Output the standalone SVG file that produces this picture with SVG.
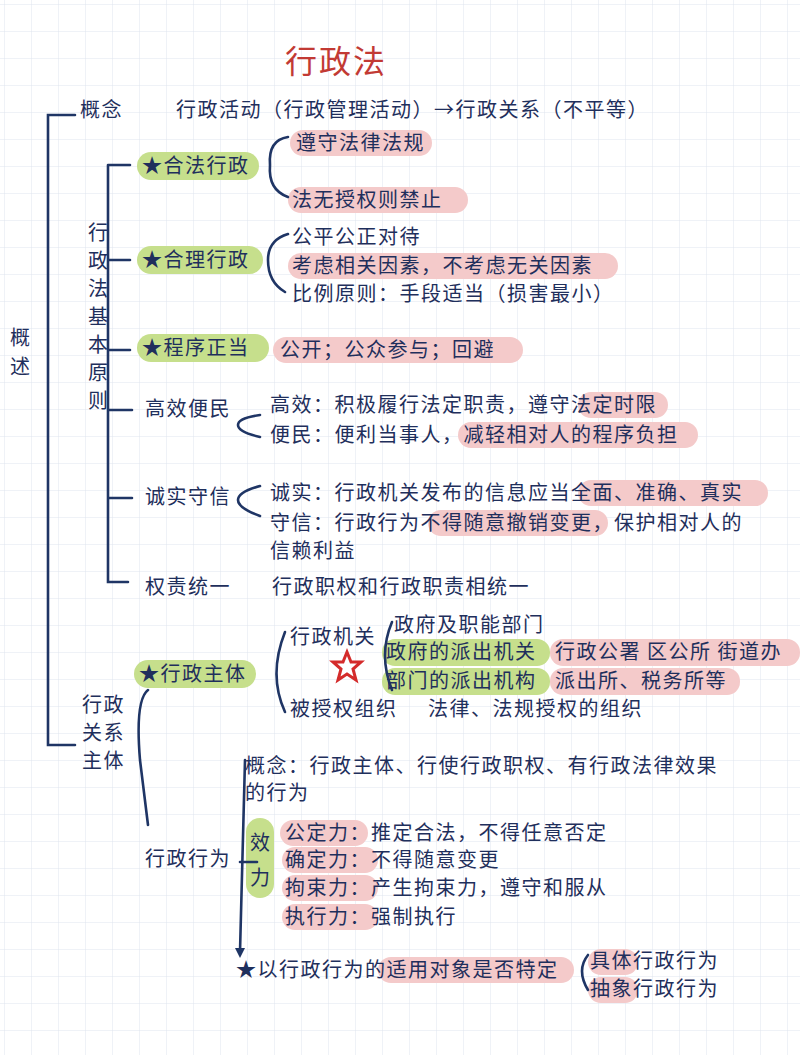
<svg xmlns="http://www.w3.org/2000/svg" width="800" height="1055" viewBox="0 0 800 1055">
<defs>
<pattern id="grid" width="27" height="27" patternUnits="userSpaceOnUse" x="5" y="5">
<path d="M27 0V27H0" fill="none" stroke="#dfe4ee" stroke-width="1"/>
</pattern>
<style>
text{font-family:"Noto Sans CJK SC","Noto Sans",sans-serif;font-size:20px;letter-spacing:1.5px;fill:#1f2f5c}
.t{font-size:32px;letter-spacing:2px;fill:#c23a34}
.ln{fill:none;stroke:#1f3565;stroke-width:2.6;stroke-linecap:round}
.g{fill:#c6df8c}
.p{fill:#f4caca}
</style>
</defs>
<rect width="800" height="1055" fill="#fff"/>
<rect width="800" height="1055" fill="url(#grid)"/>
<text class="t" x="285" y="73">行政法</text>
<g id="highlights">
<rect class="g" x="137" y="152" width="122" height="28" rx="14"/>
<rect class="g" x="137" y="246" width="126" height="28" rx="14"/>
<rect class="g" x="137" y="334" width="132" height="28" rx="14"/>
<rect class="g" x="134" y="660" width="122" height="28" rx="14"/>
<rect class="g" x="382" y="639" width="168" height="27" rx="13"/>
<rect class="g" x="382" y="668" width="168" height="27" rx="13"/>
<rect class="g" x="246" y="818" width="28" height="80" rx="14"/>
<rect class="p" x="290" y="130" width="142" height="26" rx="13"/>
<rect class="p" x="288" y="187" width="180" height="26" rx="13"/>
<rect class="p" x="288" y="253" width="330" height="26" rx="13"/>
<rect class="p" x="273" y="337" width="250" height="26" rx="13"/>
<rect class="p" x="578" y="392" width="90" height="26" rx="13"/>
<rect class="p" x="458" y="422" width="240" height="26" rx="13"/>
<rect class="p" x="578" y="480" width="190" height="26" rx="13"/>
<rect class="p" x="428" y="510" width="180" height="26" rx="13"/>
<rect class="p" x="550" y="639" width="250" height="27" rx="13"/>
<rect class="p" x="550" y="668" width="190" height="27" rx="13"/>
<rect class="p" x="280" y="820" width="88" height="26" rx="13"/>
<rect class="p" x="282" y="847" width="96" height="26" rx="13"/>
<rect class="p" x="282" y="875" width="96" height="26" rx="13"/>
<rect class="p" x="282" y="904" width="96" height="26" rx="13"/>
<rect class="p" x="378" y="957" width="196" height="26" rx="13"/>
<rect class="p" x="588" y="949" width="50" height="26" rx="13"/>
<rect class="p" x="588" y="977" width="50" height="26" rx="13"/>
</g>
<g id="connectors">
<path class="ln" d="M75 115H48V745H75"/>
<path class="ln" d="M108 165V582H128M108 165H130M108 260H130M108 350H130M108 410H132M108 498H132"/>
<path class="ln" d="M288 137Q268 140 270 165Q268 190 288 197"/>
<path class="ln" d="M288 234Q268 240 268 260Q268 282 285 292"/>
<path class="ln" d="M260 415Q238 418 238 425Q238 432 260 437"/>
<path class="ln" d="M260 486Q238 492 238 500Q238 508 260 516"/>
<path class="ln" d="M148 690Q135 700 140 760L148 825"/>
<path class="ln" d="M285 632Q268 675 285 712"/>
<path class="ln" d="M392 622Q378 655 392 690"/>
<path class="ln" d="M245 760L240 952"/>
<path class="ln" d="M240 862H257"/>
<path d="M240 958l-5 -10h10z" fill="#1f3565"/>
<path class="ln" d="M588 955Q576 970 588 990"/>
<path d="M347 652l4 10h10l-8 7 3 11-9-6-9 6 3-11-8-7h10z" fill="none" stroke="#d42b2b" stroke-width="3"/>
</g>
<g id="n-overview">
<text x="10" y="345">概</text><text x="10" y="374">述</text>
</g>
<g id="n-concept"><text x="80" y="117">概念</text><text x="176" y="117">行政活动（行政管理活动）→行政关系（不平等）</text></g>
<g id="n-principles">
<text x="88" y="240">行</text><text x="88" y="268">政</text><text x="88" y="296">法</text><text x="88" y="324">基</text><text x="88" y="352">本</text><text x="88" y="380">原</text><text x="88" y="408">则</text>
</g>
<g id="n-legal"><text x="142" y="173">★合法行政</text><text x="296" y="150">遵守法律法规</text><text x="292" y="207">法无授权则禁止</text></g>
<g id="n-reasonable"><text x="142" y="267">★合理行政</text><text x="292" y="244">公平公正对待</text><text x="292" y="273">考虑相关因素，不考虑无关因素</text><text x="292" y="301">比例原则：手段适当（损害最小）</text></g>
<g id="n-procedure"><text x="142" y="355">★程序正当</text><text x="280" y="357">公开；公众参与；回避</text></g>
<g id="n-efficient"><text x="145" y="416">高效便民</text><text x="270" y="412">高效：积极履行法定职责，遵守法定时限</text><text x="270" y="442">便民：便利当事人，减轻相对人的程序负担</text></g>
<g id="n-honest"><text x="145" y="504">诚实守信</text><text x="270" y="500">诚实：行政机关发布的信息应当全面、准确、真实</text><text x="270" y="530">守信：行政行为不得随意撤销变更，保护相对人的</text><text x="270" y="558">信赖利益</text></g>
<g id="n-unity"><text x="145" y="594">权责统一</text><text x="272" y="594">行政职权和行政职责相统一</text></g>
<g id="n-relation"><text x="82" y="712">行政</text><text x="82" y="740">关系</text><text x="82" y="768">主体</text></g>
<g id="n-subject"><text x="139" y="681">★行政主体</text>
<text x="290" y="644">行政机关</text><text x="394" y="632">政府及职能部门</text>
<text x="386" y="659">政府的派出机关</text><text x="555" y="659">行政公署 区公所 街道办</text>
<text x="386" y="688">部门的派出机构</text><text x="555" y="688">派出所、税务所等</text>
<text x="290" y="716">被授权组织</text><text x="428" y="716">法律、法规授权的组织</text></g>
<g id="n-act"><text x="145" y="866">行政行为</text>
<text x="245" y="773">概念：行政主体、行使行政职权、有行政法律效果</text><text x="245" y="800">的行为</text>
<text x="250" y="850">效</text><text x="250" y="885">力</text>
<text x="285" y="840">公定力：推定合法，不得任意否定</text>
<text x="285" y="867">确定力：不得随意变更</text>
<text x="285" y="895">拘束力：产生拘束力，遵守和服从</text>
<text x="285" y="924">执行力：强制执行</text>
<text x="236" y="977">★以行政行为的适用对象是否特定</text>
<text x="590" y="968">具体行政行为</text><text x="590" y="996">抽象行政行为</text></g>
</svg>
